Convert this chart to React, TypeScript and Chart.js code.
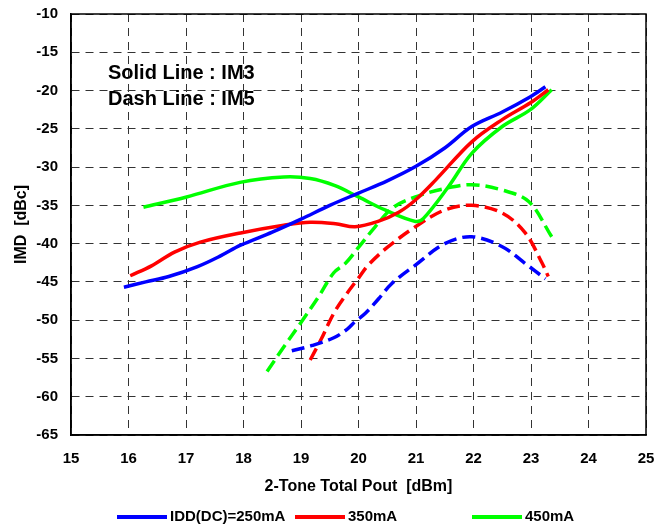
import React, { useEffect, useRef } from "react";
import { Chart, registerables } from "chart.js";

Chart.register(...registerables);

// IM3 (solid)
const im3_250_x = [15.92, 16.3, 16.7, 17.2, 17.6, 17.95, 18.5, 19.0, 19.5, 20.0, 20.5, 21.0, 21.5, 21.97, 22.5, 22.99, 23.25];
const im3_250_y = [-45.7, -45.0, -44.3, -43.0, -41.6, -40.2, -38.5, -36.8, -35.0, -33.4, -31.8, -29.9, -27.5, -24.7, -22.8, -20.8, -19.5];
const im3_350_x = [16.03, 16.4, 16.8, 17.25, 17.95, 18.7, 19.16, 19.6, 19.94, 20.34, 20.7, 20.99, 21.34, 21.97, 22.5, 22.99, 23.3];
const im3_350_y = [-44.2, -42.9, -41.1, -39.8, -38.6, -37.6, -37.2, -37.4, -37.8, -37.1, -35.9, -34.3, -31.7, -26.7, -23.8, -21.6, -19.9];
const im3_450_x = [16.26, 17.01, 17.94, 18.7, 19.16, 19.58, 20.0, 20.46, 20.99, 21.13, 21.56, 21.97, 22.5, 22.99, 23.36];
const im3_450_y = [-35.25, -33.9, -32.0, -31.3, -31.5, -32.4, -33.9, -35.6, -37.1, -36.7, -32.6, -28.2, -24.7, -22.5, -19.9];

// IM5 (dashed)
const im5_250_x = [18.84, 19.2, 19.57, 19.8, 19.94, 20.12, 20.35, 20.58, 20.99, 21.5, 21.97, 22.5, 22.9, 23.25];
const im5_250_y = [-54.0, -53.3, -52.3, -51.2, -50.2, -49.1, -47.2, -45.2, -42.8, -40.0, -39.1, -40.4, -42.6, -44.6];
const im5_350_x = [19.16, 19.35, 19.57, 19.8, 20.0, 20.17, 20.5, 20.99, 21.5, 21.97, 22.5, 22.9, 23.19, 23.3];
const im5_350_y = [-55.2, -52.5, -49.1, -46.5, -44.5, -42.8, -40.5, -37.8, -35.6, -35.0, -36.0, -38.6, -42.5, -44.3];
const im5_450_x = [18.41, 18.7, 19.0, 19.3, 19.57, 19.77, 20.0, 20.29, 20.6, 20.99, 21.5, 21.97, 22.5, 22.96, 23.36];
const im5_450_y = [-56.7, -53.5, -50.3, -47.0, -43.8, -42.6, -40.5, -37.8, -35.3, -33.9, -32.8, -32.3, -33.0, -34.5, -39.1];

const legendLabels = ["IDD(DC)=250mA", "350mA", "450mA"];
const seriesColors = ["#0000FF", "#FF0000", "#00FF00"];
const noteLines = ["Solid Line : IM3", "Dash Line : IM5"];
const xTitle = "2-Tone Total Pout  [dBm]";
const yTitle = "IMD  [dBc]";

const FONT = '"Liberation Sans", Arial, Helvetica, sans-serif';

const pts = (xs: number[], ys: number[]) => xs.map((x, i) => ({ x, y: ys[i] }));

const decorPlugin = {
  id: "decor",
  afterDraw(chart: any) {
    const ctx = chart.ctx;
    const { left, top, right, bottom } = chart.chartArea;
    ctx.save();
    ctx.setLineDash([]);
    ctx.strokeStyle = "#000";
    ctx.lineWidth = 1.5;
    ctx.strokeRect(left, top, right - left, bottom - top);

    ctx.fillStyle = "#000";
    ctx.font = `bold 20px ${FONT}`;
    ctx.textBaseline = "middle";
    ctx.textAlign = "left";
    ctx.fillText(noteLines[0], left + 37, top + 59);
    ctx.fillText(noteLines[1], left + 37, top + 85);

    // legend
    const ly = 517;
    const starts = [117, 295, 472];
    ctx.font = `bold 15px ${FONT}`;
    legendLabels.forEach((lab, i) => {
      const x0 = starts[i];
      ctx.strokeStyle = seriesColors[i];
      ctx.lineWidth = 4;
      ctx.beginPath();
      ctx.moveTo(x0, ly);
      ctx.lineTo(x0 + 50, ly);
      ctx.stroke();
      ctx.fillStyle = "#000";
      ctx.fillText(lab, x0 + 53, ly);
    });
    ctx.restore();
  },
};

export default function App() {
  const ref = useRef<HTMLCanvasElement | null>(null);
  useEffect(() => {
    document.body.style.margin = "0";
    document.body.style.overflow = "hidden";
    if (!ref.current) return;
    Chart.defaults.font.family = FONT;
    Chart.defaults.color = "#000";
    const mk = (xs: number[], ys: number[], color: string, dashed: boolean) => ({
      data: pts(xs, ys),
      borderColor: color,
      backgroundColor: color,
      borderWidth: 3.5,
      borderDash: dashed ? [13, 6] : [],
      pointRadius: 0,
      tension: 0.35,
      fill: false,
      borderCapStyle: "butt",
    });
    const chart = new Chart(ref.current, {
      type: "line",
      data: {
        datasets: [
          mk(im3_250_x, im3_250_y, seriesColors[0], false),
          mk(im3_350_x, im3_350_y, seriesColors[1], false),
          mk(im3_450_x, im3_450_y, seriesColors[2], false),
          mk(im5_250_x, im5_250_y, seriesColors[0], true),
          mk(im5_350_x, im5_350_y, seriesColors[1], true),
          mk(im5_450_x, im5_450_y, seriesColors[2], true),
        ] as any,
      },
      options: {
        responsive: false,
        animation: false,
        layout: { padding: { top: 14, right: 24, left: 0, bottom: 0 } },
        plugins: { legend: { display: false }, tooltip: { enabled: false } },
        scales: {
          x: {
            type: "linear",
            min: 15,
            max: 25,
            afterFit: (s: any) => {
              s.height = 94;
              s.paddingLeft = 0;
              s.paddingRight = 0;
            },
            ticks: { stepSize: 1, padding: 15, font: { size: 15, weight: "bold" }, color: "#000" },
            grid: { drawTicks: false, color: "#333", lineWidth: 1 },
            border: { display: true, color: "#000", width: 1.5, dash: [8, 6] },
            title: {
              display: true,
              text: xTitle,
              color: "#000",
              font: { size: 16, weight: "bold" },
              padding: { top: 0, bottom: 33 },
            },
          },
          y: {
            type: "linear",
            min: -65,
            max: -10,
            afterFit: (s: any) => {
              s.width = 71;
              s.paddingTop = 0;
              s.paddingBottom = 0;
            },
            ticks: { stepSize: 5, padding: 13, font: { size: 15, weight: "bold" }, color: "#000" },
            grid: { drawTicks: false, color: "#333", lineWidth: 1 },
            border: { display: true, color: "#000", width: 1.5, dash: [8, 6] },
            title: {
              display: true,
              text: yTitle,
              color: "#000",
              font: { size: 16, weight: "bold" },
              padding: { top: 12, bottom: 0 },
            },
          },
        },
      } as any,
      plugins: [decorPlugin],
    });
    return () => chart.destroy();
  }, []);
  return (
    <div style={{ width: 670, height: 529, background: "#fff" }}>
      <canvas ref={ref} width={670} height={529} style={{ display: "block", width: 670, height: 529 }} />
    </div>
  );
}
